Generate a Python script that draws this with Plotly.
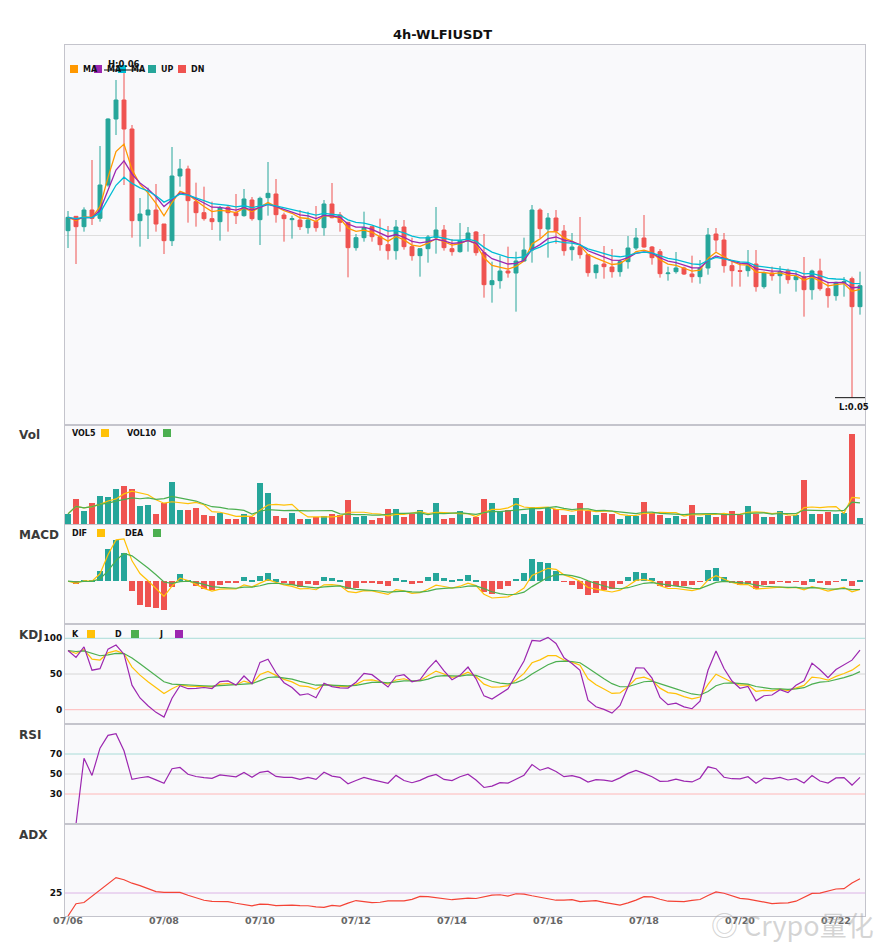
import pandas as pd
import plotly.graph_objects as go
from plotly.subplots import make_subplots

# 4h candles, 07/06 00:00 onward
times = pd.date_range("2025-07-06 00:00", periods=100, freq="4h")

opens = [0.05513, 0.05556, 0.05525, 0.05575, 0.05550, 0.05650, 0.05848, 0.05905, 0.05818, 0.05543,
         0.05560, 0.05575, 0.05533, 0.05483, 0.05677, 0.05698, 0.05600, 0.05567, 0.05549, 0.05540,
         0.05583, 0.05567, 0.05558, 0.05605, 0.05546, 0.05612, 0.05623, 0.05560, 0.05546, 0.05545,
         0.05522, 0.05540, 0.05522, 0.05593, 0.05560, 0.05538, 0.05462, 0.05492, 0.05525, 0.05495,
         0.05471, 0.05453, 0.05524, 0.05465, 0.05438, 0.05459, 0.05492, 0.05515, 0.05459, 0.05450,
         0.05483, 0.05509, 0.05447, 0.05351, 0.05363, 0.05392, 0.05386, 0.05422, 0.05455, 0.05575,
         0.05518, 0.05551, 0.05512, 0.05456, 0.05465, 0.05441, 0.05387, 0.05413, 0.05404, 0.05390,
         0.05420, 0.05461, 0.05491, 0.05464, 0.05450, 0.05384, 0.05390, 0.05401, 0.05383, 0.05375,
         0.05401, 0.05503, 0.05485, 0.05408, 0.05393, 0.05393, 0.05413, 0.05345, 0.05386, 0.05378,
         0.05393, 0.05366, 0.05375, 0.05336, 0.05392, 0.05339, 0.05318, 0.05357, 0.05369, 0.05285]

highs = [0.05572, 0.05557, 0.05583, 0.05725, 0.05767, 0.05850, 0.05965, 0.05995, 0.05830, 0.05611,
         0.05642, 0.05653, 0.05533, 0.05764, 0.05728, 0.05708, 0.05657, 0.05645, 0.05600, 0.05587,
         0.05590, 0.05623, 0.05638, 0.05614, 0.05615, 0.05719, 0.05668, 0.05567, 0.05558, 0.05575,
         0.05570, 0.05587, 0.05605, 0.05656, 0.05569, 0.05538, 0.05503, 0.05570, 0.05525, 0.05549,
         0.05527, 0.05545, 0.05545, 0.05492, 0.05459, 0.05500, 0.05584, 0.05530, 0.05488, 0.05536,
         0.05524, 0.05512, 0.05503, 0.05420, 0.05438, 0.05465, 0.05450, 0.05492, 0.05590, 0.05580,
         0.05566, 0.05575, 0.05530, 0.05506, 0.05554, 0.05441, 0.05410, 0.05467, 0.05458, 0.05426,
         0.05497, 0.05521, 0.05560, 0.05467, 0.05458, 0.05405, 0.05449, 0.05405, 0.05438, 0.05425,
         0.05521, 0.05521, 0.05506, 0.05420, 0.05417, 0.05455, 0.05455, 0.05390, 0.05405, 0.05407,
         0.05399, 0.05390, 0.05434, 0.05396, 0.05429, 0.05360, 0.05360, 0.05374, 0.05375, 0.05390]

lows = [0.05461, 0.05413, 0.05510, 0.05530, 0.05540, 0.05645, 0.05800, 0.05650, 0.05492, 0.05465,
        0.05488, 0.05510, 0.05443, 0.05467, 0.05645, 0.05537, 0.05525, 0.05543, 0.05515, 0.05483,
        0.05510, 0.05533, 0.05555, 0.05543, 0.05470, 0.05558, 0.05537, 0.05480, 0.05489, 0.05515,
        0.05504, 0.05510, 0.05498, 0.05550, 0.05510, 0.05373, 0.05453, 0.05480, 0.05480, 0.05453,
        0.05426, 0.05426, 0.05456, 0.05423, 0.05375, 0.05417, 0.05444, 0.05453, 0.05438, 0.05447,
        0.05450, 0.05438, 0.05312, 0.05297, 0.05339, 0.05372, 0.05270, 0.05420, 0.05417, 0.05491,
        0.05432, 0.05474, 0.05438, 0.05423, 0.05429, 0.05375, 0.05369, 0.05369, 0.05372, 0.05375,
        0.05399, 0.05455, 0.05462, 0.05411, 0.05372, 0.05363, 0.05384, 0.05380, 0.05357, 0.05354,
        0.05381, 0.05450, 0.05387, 0.05345, 0.05345, 0.05375, 0.05330, 0.05339, 0.05363, 0.05324,
        0.05354, 0.05330, 0.05255, 0.05306, 0.05333, 0.05282, 0.05303, 0.05315, 0.05012, 0.05261]

closes = [0.05553, 0.05525, 0.05575, 0.05550, 0.05650, 0.05848, 0.05905, 0.05818, 0.05543, 0.05563,
          0.05575, 0.05533, 0.05483, 0.05677, 0.05698, 0.05603, 0.05567, 0.05549, 0.05540, 0.05582,
          0.05567, 0.05558, 0.05608, 0.05549, 0.05610, 0.05625, 0.05561, 0.05549, 0.05549, 0.05525,
          0.05545, 0.05522, 0.05593, 0.05552, 0.05538, 0.05462, 0.05492, 0.05522, 0.05495, 0.05471,
          0.05453, 0.05524, 0.05465, 0.05438, 0.05459, 0.05494, 0.05515, 0.05462, 0.05450, 0.05483,
          0.05506, 0.05447, 0.05351, 0.05363, 0.05392, 0.05386, 0.05422, 0.05455, 0.05575, 0.05519,
          0.05551, 0.05512, 0.05453, 0.05464, 0.05441, 0.05387, 0.05410, 0.05405, 0.05390, 0.05420,
          0.05461, 0.05491, 0.05464, 0.05432, 0.05384, 0.05386, 0.05401, 0.05383, 0.05375, 0.05401,
          0.05500, 0.05485, 0.05408, 0.05393, 0.05391, 0.05408, 0.05345, 0.05386, 0.05378, 0.05390,
          0.05366, 0.05375, 0.05336, 0.05392, 0.05339, 0.05318, 0.05358, 0.05360, 0.05285, 0.05348]

volumes = [440, 1040, 560, 880, 1160, 1120, 1440, 1560, 1440, 760,
           800, 440, 880, 1720, 600, 600, 680, 400, 360, 480,
           240, 240, 440, 320, 1680, 1280, 360, 280, 480, 240,
           240, 320, 360, 440, 400, 1000, 320, 360, 200, 280,
           640, 640, 320, 440, 600, 280, 880, 240, 280, 560,
           280, 320, 1040, 880, 560, 600, 1080, 440, 720, 560,
           720, 640, 400, 400, 880, 560, 400, 480, 440, 240,
           360, 360, 920, 480, 400, 280, 360, 240, 800, 320,
           440, 320, 440, 560, 400, 760, 440, 320, 320, 560,
           360, 400, 1800, 440, 440, 520, 440, 480, 3600, 280]

UP = "#26a69a"
DN = "#ef5350"
ORANGE = "#ff9800"
PURPLE = "#9c27b0"
CYAN = "#00bcd4"
YELLOW = "#ffc107"
GREEN = "#4caf50"

df = pd.DataFrame({"open": opens, "high": highs, "low": lows,
                   "close": closes, "vol": volumes}, index=times)
c = df.close

# moving averages
ema5 = c.ewm(span=5, adjust=False).mean()
ema8 = c.ewm(span=8, adjust=False).mean()
ema13 = c.ewm(span=13, adjust=False).mean()
vol5 = df.vol.rolling(5, min_periods=1).mean()
vol10 = df.vol.rolling(10, min_periods=1).mean()

# MACD (6, 13, 5)
dif = c.ewm(span=6, adjust=False).mean() - c.ewm(span=13, adjust=False).mean()
dea = dif.ewm(span=5, adjust=False).mean()
hist = 2 * (dif - dea)

# KDJ
llv = df.low.rolling(9, min_periods=1).min()
hhv = df.high.rolling(9, min_periods=1).max()
rsv = (c - llv) / (hhv - llv) * 100
k = rsv.ewm(com=2, adjust=False).mean()
d = k.ewm(com=2, adjust=False).mean()
j = 3 * k - 2 * d

# RSI
delta = c.diff()
gain = delta.clip(lower=0).ewm(alpha=1 / 14).mean()
loss = (-delta).clip(lower=0).ewm(alpha=1 / 14).mean()
rsi = 100 * gain / (gain + loss)

# ADX
up_move = df.high.diff()
down_move = -df.low.diff()
pdm = up_move.where((up_move > down_move) & (up_move > 0), 0.0)
mdm = down_move.where((down_move > up_move) & (down_move > 0), 0.0)
pdm_s = pdm.ewm(span=14, adjust=False).mean()
mdm_s = mdm.ewm(span=14, adjust=False).mean()
dx = (100 * (pdm_s - mdm_s).abs() / (pdm_s + mdm_s)).fillna(0)
adx = dx.ewm(span=14, adjust=False).mean()

bar_colors = [UP if cl >= op else DN for op, cl in zip(opens, closes)]
hist_colors = [UP if h >= 0 else DN for h in hist]
bar_w = 4 * 3600 * 1000 * 0.72

fig = make_subplots(rows=6, cols=1, shared_xaxes=True, vertical_spacing=0,
                    row_heights=[380, 100, 99, 100, 100, 92])

fig.add_trace(go.Candlestick(x=times, open=df.open, high=df.high, low=df.low, close=c,
                             increasing=dict(line=dict(color=UP, width=1), fillcolor=UP),
                             decreasing=dict(line=dict(color=DN, width=1), fillcolor=DN),
                             whiskerwidth=0, showlegend=False), row=1, col=1)
for s, col in [(ema5, ORANGE), (ema8, PURPLE), (ema13, CYAN)]:
    fig.add_trace(go.Scatter(x=times, y=s, mode="lines", line=dict(color=col, width=1.3),
                             showlegend=False), row=1, col=1)

fig.add_trace(go.Bar(x=times, y=df.vol, marker=dict(color=bar_colors, line_width=0),
                     width=bar_w, showlegend=False), row=2, col=1)
fig.add_trace(go.Scatter(x=times, y=vol5, mode="lines", line=dict(color=YELLOW, width=1.2),
                         showlegend=False), row=2, col=1)
fig.add_trace(go.Scatter(x=times, y=vol10, mode="lines", line=dict(color=GREEN, width=1.2),
                         showlegend=False), row=2, col=1)

fig.add_trace(go.Bar(x=times, y=hist, marker=dict(color=hist_colors, line_width=0),
                     width=bar_w, showlegend=False), row=3, col=1)
fig.add_trace(go.Scatter(x=times, y=dif, mode="lines", line=dict(color=YELLOW, width=1.2),
                         showlegend=False), row=3, col=1)
fig.add_trace(go.Scatter(x=times, y=dea, mode="lines", line=dict(color=GREEN, width=1.2),
                         showlegend=False), row=3, col=1)

for s, col in [(k, YELLOW), (d, GREEN), (j, PURPLE)]:
    fig.add_trace(go.Scatter(x=times, y=s, mode="lines", line=dict(color=col, width=1.2),
                             showlegend=False), row=4, col=1)

fig.add_trace(go.Scatter(x=times, y=rsi, mode="lines", line=dict(color=PURPLE, width=1.2),
                         showlegend=False), row=5, col=1)
fig.add_trace(go.Scatter(x=times, y=adx, mode="lines", line=dict(color="#f44336", width=1.2),
                         showlegend=False), row=6, col=1)

# reference lines
fig.add_hline(y=0, row=3, col=1, line=dict(color="#d6d6d6", width=1), layer="below")
for row, val, col in [(4, 100, "#a9dcd8"), (4, 50, "#d6d6d6"), (4, 0, "#ffb8b8"),
                      (5, 70, "#a9dcd8"), (5, 50, "#d6d6d6"), (5, 30, "#ffb8b8"),
                      (6, 25, "#dcb4e6")]:
    fig.add_hline(y=val, row=row, col=1, line=dict(color=col, width=1), layer="below")

# axes
AX = "#c4c4cc"
fig.update_xaxes(showgrid=False, showline=True, mirror=True, linecolor=AX, linewidth=1,
                 rangeslider_visible=False, ticks="",
                 range=[times[0] - pd.Timedelta(hours=1.5), times[-1] + pd.Timedelta(hours=2.5)])
fig.update_xaxes(tick0="2025-07-06", dtick=2 * 86400000, tickformat="%m/%d",
                 ticklabelstandoff=-4,
                 tickfont=dict(size=9.5, color="#666666", weight="bold"), row=6, col=1)
fig.update_yaxes(showline=True, mirror=True, linecolor=AX, linewidth=1, zeroline=False,
                 showgrid=False, showticklabels=False, ticks="")

mx = max(dif.max(), dea.max(), hist.max())
mn = min(dif.min(), dea.min(), hist.min())
sp = mx - mn
tick_font = dict(size=9, color="#111111", weight="bold")
fig.update_yaxes(range=[0.0493, 0.0607], tickvals=[0.055], showgrid=True, gridcolor="#dedede",
                 row=1, col=1)
fig.update_yaxes(range=[0, df.vol.max() * 1.1], row=2, col=1)
fig.update_yaxes(range=[mn - 0.197 * sp, mx + 0.197 * sp], row=3, col=1)
fig.update_yaxes(range=[-20, 120], tickvals=[0, 50, 100], showticklabels=True,
                 tickfont=tick_font, row=4, col=1)
fig.update_yaxes(range=[0, 100], tickvals=[30, 50, 70], showticklabels=True,
                 tickfont=tick_font, row=5, col=1)
fig.update_yaxes(range=[0, 100], tickvals=[25], showticklabels=True,
                 tickfont=tick_font, row=6, col=1)

# the page adds an 8px body margin, so the figure is laid out 8px up/left
OFF = 8
ML, MT, PW, PH = 65 - OFF, 45 - OFF, 800, 871
FIG_W, FIG_H = 885 - OFF, 950 - OFF


def px_x(px):
    return (px - 65) / PW


def px_y(py):
    return (916 - py) / PH


def label(x, y, text, size=8, color="#111111", anchor="left"):
    fig.add_annotation(x=px_x(x), y=px_y(y), xref="paper", yref="paper", text=text,
                       showarrow=False, xanchor=anchor, yanchor="middle",
                       font=dict(size=size, color=color, weight="bold"))


def square(x, y, color):
    fig.add_shape(type="rect", xref="paper", yref="paper", x0=px_x(x), x1=px_x(x + 8),
                  y0=px_y(y + 4), y1=px_y(y - 4), fillcolor=color, line_width=0)


# panel titles
for txt, y in [("Vol", 435), ("MACD", 535), ("KDJ", 635), ("RSI", 735), ("ADX", 835)]:
    label(17, y, txt, size=12, color="#3a3a3a")

# in-panel legends
for x, col, txt in [(70, ORANGE, "MA"), (94, PURPLE, "MA"), (118, CYAN, "MA"),
                    (148, UP, "UP"), (178, DN, "DN")]:
    square(x, 69, col)
    label(x + 11, 69, txt)
for tx, sx, col, txt, y in [(70, 101, YELLOW, "VOL5", 433), (125, 163, GREEN, "VOL10", 433),
                            (70, 97, YELLOW, "DIF", 533), (123, 153, GREEN, "DEA", 533),
                            (70, 87, YELLOW, "K", 634), (113, 131, GREEN, "D", 634),
                            (157, 175, PURPLE, "J", 634)]:
    label(tx, y, txt)
    square(sx, y, col)

# high / low markers
hi_i = int(df.high.values.argmax())
lo_i = int(df.low.values.argmin())
h4 = pd.Timedelta(hours=10)
fig.add_shape(type="line", xref="x", yref="y", x0=times[hi_i] - h4, x1=times[hi_i] + h4,
              y0=df.high.iloc[hi_i], y1=df.high.iloc[hi_i], line=dict(color="#111111", width=1))
fig.add_annotation(x=times[hi_i], y=df.high.iloc[hi_i], xref="x", yref="y",
                   text="H:%.2f" % df.high.iloc[hi_i], showarrow=False, yanchor="bottom",
                   yshift=-1, font=dict(size=8.5, color="#111111", weight="bold"))
fig.add_shape(type="line", xref="x", yref="y", x0=times[lo_i] - pd.Timedelta(hours=8.5),
              x1=times[lo_i] + pd.Timedelta(hours=8.5), y0=df.low.iloc[lo_i], y1=df.low.iloc[lo_i],
              line=dict(color="#111111", width=1))
fig.add_annotation(x=times[lo_i] + pd.Timedelta(hours=1), y=df.low.iloc[lo_i], xref="x", yref="y",
                   text="L:%.2f" % df.low.iloc[lo_i], showarrow=False, yanchor="top",
                   yshift=-2, font=dict(size=8.5, color="#111111", weight="bold"))

# watermark
fig.add_annotation(x=px_x(792), y=px_y(925), xref="paper", yref="paper", text="◎ Crypo量化",
                   showarrow=False, xanchor="center", yanchor="middle",
                   font=dict(size=27, color="rgba(170,170,170,0.5)", family="Noto Sans CJK SC"))

fig.update_layout(
    width=FIG_W, height=FIG_H,
    margin=dict(l=ML, r=FIG_W - ML - PW, t=MT, b=FIG_H - MT - PH),
    paper_bgcolor="white", plot_bgcolor="#f9f9fb",
    font=dict(family="DejaVu Sans"),
    title=dict(text="4h-WLFIUSDT", x=(442.5 - OFF) / FIG_W, xanchor="center",
               y=1 - (34 - OFF) / FIG_H, yanchor="middle",
               font=dict(size=13, color="#111111", weight="bold")),
    bargap=0, showlegend=False,
)

fig.write_html("out.html")
